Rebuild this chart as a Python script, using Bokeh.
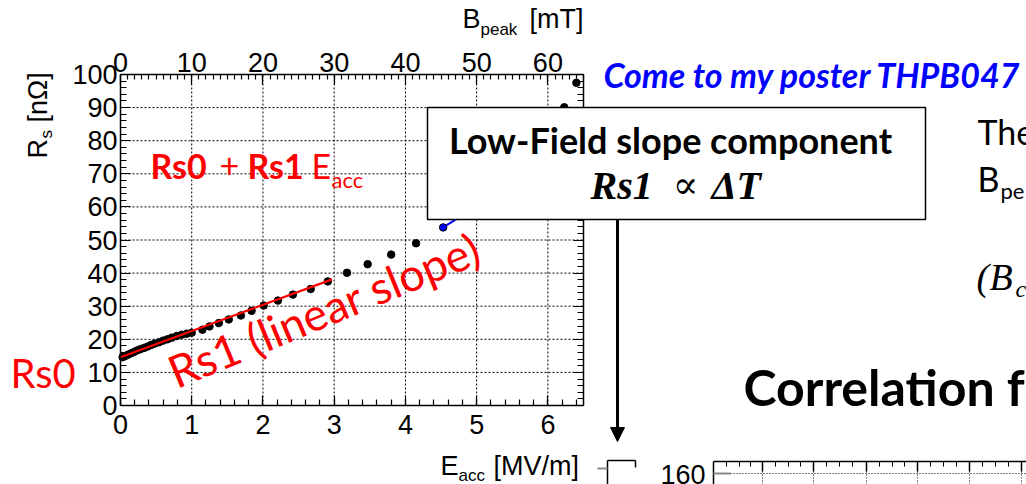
from bokeh.plotting import figure
from bokeh.models import (Range1d, LinearAxis, SingleIntervalTicker, Label,
                          BoxAnnotation, Arrow, NormalHead)
from bokeh.embed import file_html
from bokeh.resources import INLINE
import math

# ---------------- data ----------------
eacc = [0.03, 0.07, 0.11, 0.15, 0.19, 0.23, 0.28, 0.33, 0.38, 0.43, 0.48, 0.54,
        0.60, 0.66, 0.72, 0.79, 0.86, 0.93, 1.00, 1.15, 1.25, 1.38, 1.52, 1.69,
        1.84, 2.01, 2.21, 2.42, 2.67, 2.91, 3.18, 3.47, 3.80, 4.15, 6.23, 6.40]
rs = [14.6, 15.0, 15.4, 15.8, 16.2, 16.6, 17.0, 17.4, 17.8, 18.3, 18.7, 19.1,
      19.6, 20.0, 20.5, 21.0, 21.4, 21.7, 22.0, 22.9, 23.9, 24.9, 26.0, 27.2,
      28.6, 30.2, 31.7, 33.5, 35.2, 37.5, 40.1, 42.7, 45.6, 49.0, 90.1, 97.5]
fit_x = [0.0, 2.97]
fit_y = [14.6, 38.1]
hf_x = [4.53]
hf_y = [53.8]
hf_fit_x = [4.53, 4.72]
hf_fit_y = [53.8, 56.4]
eacc_ticks = [0, 1, 2, 3, 4, 5, 6]
rs_ticks = [0, 10, 20, 30, 40, 50, 60, 70, 80, 90, 100]
bpeak_ticks = [0, 10, 20, 30, 40, 50, 60]
EACC_MAX, RS_MAX, BPEAK_MAX = 6.5, 100.0, 65.0

# ---------------- layout: the frame is the whole slide ----------------
W, H = 1026, 484
L, R, T, B = 120, 583, 74, 405          # chart frame in slide pixels
KX = (R - L) / EACC_MAX
KY = (B - T) / RS_MAX
KB = (R - L) / BPEAK_MAX

p = figure(width=W, height=H,
           x_range=Range1d(-L / KX, (W - L) / KX),
           y_range=Range1d(-(H - B) / KY, B / KY),
           output_backend="svg", toolbar_location=None,
           x_axis_location=None, y_axis_location=None,
           min_border=0, min_border_left=0, min_border_right=0,
           min_border_top=0, min_border_bottom=0)
p.outline_line_color = None
p.background_fill_color = "white"
p.border_fill_color = "white"
p.xgrid.visible = False
p.ygrid.visible = False
p.extra_x_ranges = {"b": Range1d(-L / KB, (W - L) / KB)}

TICKFONT = "Liberation Sans"


def style_axis(ax, labels=True, standoff=4):
    ax.axis_line_color = "black"
    ax.axis_line_width = 1.5
    ax.major_tick_line_color = "black"
    ax.minor_tick_line_color = "black"
    ax.major_tick_line_width = 1.2
    ax.minor_tick_line_width = 1.2
    ax.major_tick_in = 10
    ax.major_tick_out = 0
    ax.minor_tick_in = 6
    ax.minor_tick_out = 0
    ax.major_label_text_font = TICKFONT
    ax.major_label_text_font_size = "27px"
    ax.major_label_text_color = "black"
    ax.major_label_standoff = standoff
    if not labels:
        ax.major_label_text_alpha = 0


xb = LinearAxis(ticker=SingleIntervalTicker(interval=1, num_minor_ticks=5),
                fixed_location=0, bounds=(0, EACC_MAX))
style_axis(xb, standoff=9)
p.add_layout(xb, "below")
yl = LinearAxis(ticker=SingleIntervalTicker(interval=10, num_minor_ticks=5),
                fixed_location=0, bounds=(0, RS_MAX))
style_axis(yl, standoff=3)
p.add_layout(yl, "left")
xt = LinearAxis(x_range_name="b",
                ticker=SingleIntervalTicker(interval=10, num_minor_ticks=10),
                fixed_location=RS_MAX, bounds=(0, BPEAK_MAX))
style_axis(xt, standoff=3)
xt.minor_tick_in = 5
p.add_layout(xt, "above")
yr = LinearAxis(ticker=SingleIntervalTicker(interval=10, num_minor_ticks=5),
                fixed_location=EACC_MAX, bounds=(0, RS_MAX))
style_axis(yr, labels=False)
p.add_layout(yr, "right")

# dotted grid at the major ticks
p.segment(x0=eacc_ticks, y0=[0] * len(eacc_ticks), x1=eacc_ticks,
          y1=[RS_MAX] * len(eacc_ticks), line_color="black", line_dash="2 2",
          line_width=1)
p.segment(x0=[0] * len(rs_ticks), y0=rs_ticks, x1=[EACC_MAX] * len(rs_ticks),
          y1=rs_ticks, line_color="black", line_dash="2 2", line_width=1)

# ---------------- marks ----------------
p.scatter(eacc, rs, size=7.5, color="black")
p.line(fit_x, fit_y, line_color="#ff0000", line_width=2.2)
p.line(hf_fit_x, hf_fit_y, line_color="#0000ff", line_width=2)
p.scatter(hf_x, hf_y, size=7.5, color="#0000ff", line_color="black")


# ---------------- annotations (pixel placement helpers) ----------------
def sx(px):
    return (px - L) / KX


def sy(py):
    return (B - py) / KY


def txt(px, py, text, size, font="Lato", style="normal", color="black",
        align="left", angle=0.0):
    # (px, py) is the baseline start in slide pixels; Label anchors at the box middle
    d = 0.36 * size
    ax = px - math.sin(angle) * d
    ay = py - math.cos(angle) * d
    p.add_layout(Label(x=sx(ax), y=sy(ay), text=text, text_font=font,
                       text_font_size=f"{size}px", text_font_style=style,
                       text_color=color, text_align=align,
                       text_baseline="middle", angle=angle))


def seg(x0, y0, x1, y1, color="black", width=1.5, dash="solid"):
    p.add_layout(Arrow(end=None, x_start=sx(x0), y_start=sy(y0), x_end=sx(x1),
                       y_end=sy(y1), line_color=color, line_width=width,
                       line_dash=dash))


# axis titles
txt(462, 28, "B", 27, font=TICKFONT)
txt(480, 35, "peak", 17, font=TICKFONT)
txt(529, 28, "[mT]", 27, font=TICKFONT)
txt(440, 475, "E", 27, font=TICKFONT)
txt(458, 481, "acc", 17, font=TICKFONT)
txt(493, 475, "[MV/m]", 27, font=TICKFONT)
txt(47, 158, "R", 27, font=TICKFONT, angle=math.pi / 2)
txt(52, 138, "s", 17, font=TICKFONT, angle=math.pi / 2)
txt(47, 122, "[nΩ]", 27, font=TICKFONT, angle=math.pi / 2)

# red formula
RED = "#ff0000"
txt(150, 177, "Rs0", 34, style="bold", color=RED)
txt(219, 177, "+", 34, color=RED)
txt(247, 177, "Rs1", 34, style="bold", color=RED)
txt(311, 177, "E", 34, color=RED)
txt(331, 187, "acc", 22, color=RED)
txt(10, 387, "Rs0", 40, color=RED)
txt(176, 388, "Rs1 (linear slope)", 45, color=RED, angle=math.radians(22.5))

# box
p.add_layout(BoxAnnotation(left=sx(427), right=sx(925), top=sy(107), bottom=sy(219),
                           fill_color="white", fill_alpha=1.0, line_color="black",
                           line_alpha=1.0, line_width=1.5))
txt(670, 152, "Low-Field slope component", 36, style="bold", align="center")
txt(590, 199, "Rs1", 40, font="Liberation Serif", style="bold italic")
txt(685, 198, "∝", 38, font="DejaVu Serif", align="center")
txt(711, 199, "ΔT", 40, font="Liberation Serif", style="bold italic")

# arrow
p.add_layout(Arrow(x_start=sx(617), y_start=sy(219), x_end=sx(617), y_end=sy(441),
                   line_width=3, line_color="black",
                   end=NormalHead(size=14, fill_color="black", line_color="black")))

# slide texts
txt(603, 86, "Come to my poster THPB047", 34, style="bold italic", color="#0000ff")
txt(977, 143, "The", 34)
txt(977, 190, "B", 34)
txt(1000, 198, "pe", 22)
txt(976, 290, "(", 38, font="Liberation Serif", style="italic")
txt(989, 290, "B", 38, font="Liberation Serif", style="italic")
txt(1015, 297, "c", 24, font="Liberation Serif", style="italic")
txt(743, 404, "Correlation f", 50, style="bold")

# partial chart at bottom right
txt(705, 484, "160", 27, font=TICKFONT, align="right")
seg(713, 461, 1026, 461)
seg(713, 461, 713, 484)
seg(713, 473, 730, 473, color="#888888", width=2)
seg(730, 473, 1026, 473, width=1, dash="1 2")
for mx in [762, 813, 866, 917, 969, 1021]:
    seg(mx, 461, mx, 471)
    seg(mx, 471, mx, 484, width=1, dash="1 2")
for mx in [726, 739, 750, 775, 788, 800, 826, 839, 852, 879, 892, 904, 930, 943,
           956, 982, 995, 1008]:
    seg(mx, 461, mx, 466, width=1)
seg(607, 460, 635, 460)
seg(635, 460, 635, 467)
seg(607, 460, 607, 484)
seg(597, 468, 607, 468, color="#888888", width=2)

open("out.html", "w").write(file_html(p, INLINE))
